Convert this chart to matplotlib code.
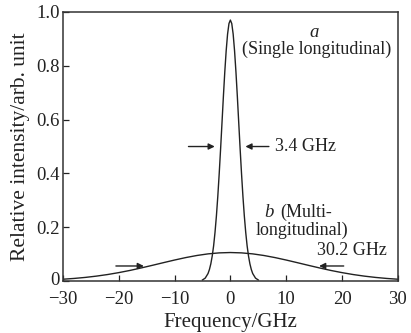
import matplotlib
matplotlib.use("Agg")
import matplotlib.pyplot as plt
from matplotlib.transforms import ScaledTranslation

plt.rcParams['font.family'] = ['Liberation Serif', 'DejaVu Serif']

# Curve a: single longitudinal mode (narrow peak)
x_a = [-5.0, -4.5, -4.0, -3.75, -3.5, -3.25, -3.0, -2.75, -2.5, -2.25, -2.0,
       -1.75, -1.5, -1.25, -1.0, -0.75, -0.5, -0.25, 0.0, 0.25, 0.5, 0.75,
       1.0, 1.25, 1.5, 1.75, 2.0, 2.25, 2.5, 2.75, 3.0, 3.25, 3.5, 3.75,
       4.0, 4.5, 5.0]
y_a = [0.004, 0.011, 0.028, 0.043, 0.064, 0.093, 0.131, 0.181, 0.242, 0.315,
       0.399, 0.491, 0.588, 0.686, 0.777, 0.856, 0.918, 0.957, 0.970, 0.957,
       0.918, 0.856, 0.777, 0.686, 0.588, 0.491, 0.399, 0.315, 0.242, 0.181,
       0.131, 0.093, 0.064, 0.043, 0.028, 0.011, 0.004]

# Curve b: multi-longitudinal (broad)
x_b = [-30, -28, -26, -24, -22, -20, -18, -16, -14, -12, -10, -8, -6, -4, -2,
       0, 2, 4, 6, 8, 10, 12, 14, 16, 18, 20, 22, 24, 26, 28, 30]
y_b = [0.0068, 0.0097, 0.0135, 0.0183, 0.0242, 0.0313, 0.0394, 0.0486,
       0.0583, 0.0683, 0.0781, 0.0872, 0.0950, 0.1010, 0.1047, 0.1060,
       0.1047, 0.1010, 0.0950, 0.0872, 0.0781, 0.0683, 0.0583, 0.0486,
       0.0394, 0.0313, 0.0242, 0.0183, 0.0135, 0.0097, 0.0068]

x_ticks = [-30, -20, -10, 0, 10, 20, 30]
y_ticks = [0, 0.2, 0.4, 0.6, 0.8, 1.0]
y_tick_labels = ['0', '0.2', '0.4', '0.6', '0.8', '1.0']
x_tick_labels = ['\u221230', '\u221220', '\u221210', '0', '10', '20', '30']

fig = plt.figure(figsize=(4.11, 3.33), dpi=100)
ax = fig.add_axes([0.153, 0.156, 0.815, 0.808])

ax.plot(x_a, y_a, color='#222222', lw=1.0)
ax.plot(x_b, y_b, color='#222222', lw=1.0)

ax.set_xlim(-30, 30)
ax.set_ylim(0, 1.0)
ax.set_xticks(x_ticks)
ax.set_xticklabels(x_tick_labels)
ax.set_yticks(y_ticks)
ax.set_yticklabels(y_tick_labels)
ax.tick_params(direction='in', length=4, width=0.9, labelsize=13.5, colors='#222222')
ax.tick_params(axis='x', pad=7)
ax.tick_params(axis='y', pad=2)
for s in ax.spines.values():
    s.set_linewidth(1.1)
    s.set_color('#333333')

# lift the y "0" label a touch so it clears the x tick label below it
zero_lbl = ax.get_yticklabels()[0]
zero_lbl.set_transform(zero_lbl.get_transform() + ScaledTranslation(0, 2 / 72, fig.dpi_scale_trans))

ax.set_xlabel('Frequency/GHz', fontsize=15, labelpad=4, color='#222222')
ax.set_ylabel('Relative intensity/arb. unit', fontsize=15.5, labelpad=5, color='#222222')

arrow = dict(arrowstyle='-|>', color='#222222', lw=1.0, mutation_scale=9)
# 3.4 GHz arrows
ax.annotate('', xy=(-2.3, 0.5), xytext=(-8.0, 0.5), arrowprops=arrow)
ax.annotate('', xy=(2.2, 0.5), xytext=(7.4, 0.5), arrowprops=arrow)
ax.text(8.0, 0.5, '3.4 GHz', fontsize=13, va='center', ha='left', color='#222222')
# 30.2 GHz arrows
ax.annotate('', xy=(-15.0, 0.056), xytext=(-21.0, 0.056), arrowprops=arrow)
ax.annotate('', xy=(15.4, 0.056), xytext=(20.8, 0.056), arrowprops=arrow)
ax.text(21.8, 0.112, '30.2 GHz', fontsize=13, va='center', ha='center', color='#222222')

ax.text(15.0, 0.925, 'a', fontsize=13.5, style='italic', va='center', ha='center', color='#222222')
ax.text(15.4, 0.86, '(Single longitudinal)', fontsize=13, va='center', ha='center', color='#222222')
ax.text(7.0, 0.255, 'b', fontsize=13.5, style='italic', va='center', ha='center', color='#222222')
ax.text(9.0, 0.255, '(Multi-', fontsize=13, va='center', ha='left', color='#222222')
ax.text(12.9, 0.187, 'longitudinal)', fontsize=13, va='center', ha='center', color='#222222')

fig.savefig('out.png', dpi=100)
